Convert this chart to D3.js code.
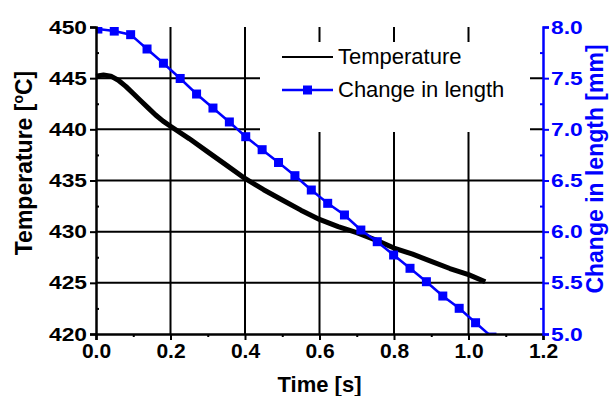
<!DOCTYPE html>
<html>
<head>
<meta charset="utf-8">
<script src="https://cdn.jsdelivr.net/npm/d3@7"></script>
<style>
body { margin: 0; background: #fff; }
text { font-family: "Liberation Sans", Arial, sans-serif; }
</style>
</head>
<body>
<div id="chart"></div>
<script>
// temperature trace
var timeT = [0.00, 0.02, 0.04, 0.06, 0.08, 0.10, 0.12, 0.14, 0.16, 0.18, 0.20, 0.25, 0.30, 0.35, 0.40,
	0.45, 0.50, 0.55, 0.60, 0.65, 0.70, 0.75, 0.80, 0.85, 0.90, 0.95, 1.00, 1.045];
var temperature = [445.2, 445.3, 445.2, 444.8, 444.2, 443.5, 442.8, 442.1, 441.4, 440.8, 440.3, 439.1, 437.8, 436.5, 435.2,
	434.1, 433.1, 432.1, 431.2, 430.5, 429.9, 429.2, 428.4, 427.8, 427.1, 426.4, 425.8, 425.1];

// change in length, one value per marker
var timeL = [0.005, 0.049, 0.093, 0.137, 0.181, 0.226, 0.270, 0.314, 0.358, 0.402, 0.446, 0.490, 0.534,
	0.578, 0.622, 0.667, 0.711, 0.755, 0.799, 0.843, 0.887, 0.931, 0.975, 1.019, 1.063];
var lengthMm = [7.98, 7.96, 7.925, 7.785, 7.646, 7.497, 7.345, 7.208, 7.072, 6.928, 6.801, 6.676, 6.547,
	6.407, 6.277, 6.163, 6.016, 5.902, 5.772, 5.642, 5.511, 5.371, 5.251, 5.110, 4.97];

var xTicks = [0.0, 0.2, 0.4, 0.6, 0.8, 1.0, 1.2];
var yTicks = [420, 425, 430, 435, 440, 445, 450];
var y2Ticks = [5.0, 5.5, 6.0, 6.5, 7.0, 7.5, 8.0];
var seriesNames = ["Temperature", "Change in length"];

var W = 609, H = 396;
var margin = {left: 96, right: 66, top: 27, bottom: 62};
var pw = W - margin.left - margin.right;
var ph = H - margin.top - margin.bottom;
var blue = "#0000ff";

var svg = d3.select("#chart").append("svg").attr("width", W).attr("height", H);

var x = d3.scaleLinear().domain([0, 1.2]).range([0, pw]);
var y = d3.scaleLinear().domain([420, 450]).range([ph, 0]);
var y2 = d3.scaleLinear().domain([5, 8]).range([ph, 0]);

var chart = svg.append("g").attr("transform", "translate(" + margin.left + "," + margin.top + ")");

chart.append("clipPath").attr("id", "plotClip")
	.append("rect").attr("x", 0).attr("y", 0).attr("width", pw).attr("height", ph);

// grid
chart.append("g").selectAll("line")
	.data(yTicks.slice(1, -1)).enter().append("line")
	.attr("x1", 0).attr("x2", pw)
	.attr("y1", function(d) { return y(d); }).attr("y2", function(d) { return y(d); })
	.attr("stroke", "#000").attr("stroke-width", 2);
chart.append("g").selectAll("line")
	.data(xTicks.slice(1, -1)).enter().append("line")
	.attr("y1", 0).attr("y2", ph)
	.attr("x1", function(d) { return x(d); }).attr("x2", function(d) { return x(d); })
	.attr("stroke", "#000").attr("stroke-width", 2);

// legend background hides the grid
var lg = svg.append("g");
lg.append("rect").attr("x", 260).attr("y", 42).attr("width", 270).attr("height", 90).attr("fill", "#fff");

// temperature
var lineT = d3.line()
	.x(function(d, i) { return x(timeT[i]); })
	.y(function(d) { return y(d); });
chart.append("path").datum(temperature)
	.attr("d", lineT)
	.attr("fill", "none").attr("stroke", "#000")
	.attr("stroke-width", 5).attr("stroke-linejoin", "round");

// length
var lineL = d3.line()
	.x(function(d, i) { return x(timeL[i]); })
	.y(function(d) { return y2(d); });
var lenG = chart.append("g").attr("clip-path", "url(#plotClip)");
lenG.append("path").datum(lengthMm)
	.attr("d", lineL)
	.attr("fill", "none").attr("stroke", blue).attr("stroke-width", 2.5);
lenG.selectAll("rect").data(lengthMm).enter().append("rect")
	.attr("x", function(d, i) { return x(timeL[i]) - 4.5; })
	.attr("y", function(d) { return y2(d) - 4.5; })
	.attr("width", 9).attr("height", 9)
	.attr("fill", blue);

// axes
var xAxis = d3.axisBottom(x).tickValues(xTicks).tickSize(6).tickFormat(d3.format(".1f"));
var xMinor = d3.axisBottom(x).tickValues([0.1, 0.3, 0.5, 0.7, 0.9, 1.1]).tickSize(3).tickFormat("");
var yAxis = d3.axisLeft(y).tickValues(yTicks).tickSize(6).tickFormat(d3.format("d"));
var yMinor = d3.axisRight(y).tickValues([422.5, 427.5, 432.5, 437.5, 442.5, 447.5]).tickSize(3).tickFormat("");
var y2Axis = d3.axisRight(y2).tickValues(y2Ticks).tickSize(6).tickFormat(d3.format(".1f"));
var y2Minor = d3.axisLeft(y2).tickValues([5.25, 5.75, 6.25, 6.75, 7.25, 7.75]).tickSize(3).tickFormat("");

function styleAxis(g, color) {
	g.select(".domain").attr("stroke", color).attr("stroke-width", 2.5);
	g.selectAll(".tick line").attr("stroke", color).attr("stroke-width", 2);
	g.selectAll("text").attr("fill", color).attr("font-weight", "bold");
}

var gx = chart.append("g").attr("transform", "translate(0," + ph + ")").call(xAxis);
styleAxis(gx, "#000");
gx.selectAll("text").attr("font-size", "21px").attr("y", 9);
var gxm = chart.append("g").attr("transform", "translate(0," + ph + ")").call(xMinor);
styleAxis(gxm, "#000");
gxm.select(".domain").remove();

var gy = chart.append("g").call(yAxis);
styleAxis(gy, "#000");
gy.selectAll("text").attr("font-size", "19px")
	.attr("x", -9 / 1.2).attr("transform", "scale(1.2,1)");
var gym = chart.append("g").call(yMinor);
styleAxis(gym, "#000");
gym.select(".domain").remove();

var gy2 = chart.append("g").attr("transform", "translate(" + pw + ",0)").call(y2Axis);
styleAxis(gy2, blue);
gy2.selectAll("text").attr("font-size", "19px")
	.attr("x", 8 / 1.2).attr("transform", "scale(1.2,1)");
var gy2m = chart.append("g").attr("transform", "translate(" + pw + ",0)").call(y2Minor);
styleAxis(gy2m, blue);
gy2m.select(".domain").remove();

// titles
svg.append("text")
	.attr("x", margin.left + pw / 2).attr("y", 392)
	.attr("text-anchor", "middle")
	.attr("font-size", "22px").attr("font-weight", "bold")
	.text("Time [s]");

var yt = svg.append("text")
	.attr("transform", "translate(32,163) rotate(-90)")
	.attr("text-anchor", "middle")
	.attr("font-size", "23px").attr("font-weight", "bold");
yt.append("tspan").text("Temperature [");
yt.append("tspan").attr("font-size", "14px").attr("dy", -9).text("o");
yt.append("tspan").attr("dy", 9).text("C]");

svg.append("text")
	.attr("transform", "translate(603,169) rotate(-90)")
	.attr("text-anchor", "middle")
	.attr("font-size", "23px").attr("font-weight", "bold")
	.attr("fill", blue)
	.text("Change in length [mm]");

// legend
lg.append("line").attr("x1", 282).attr("x2", 333).attr("y1", 57).attr("y2", 57)
	.attr("stroke", "#000").attr("stroke-width", 2);
lg.append("text").attr("x", 338).attr("y", 64).attr("font-size", "22px").text(seriesNames[0]);
lg.append("line").attr("x1", 282).attr("x2", 333).attr("y1", 90).attr("y2", 90)
	.attr("stroke", blue).attr("stroke-width", 2.5);
lg.append("rect").attr("x", 303).attr("y", 85.5).attr("width", 9).attr("height", 9).attr("fill", blue);
lg.append("text").attr("x", 338).attr("y", 97).attr("font-size", "22px").text(seriesNames[1]);
</script>
</body>
</html>
